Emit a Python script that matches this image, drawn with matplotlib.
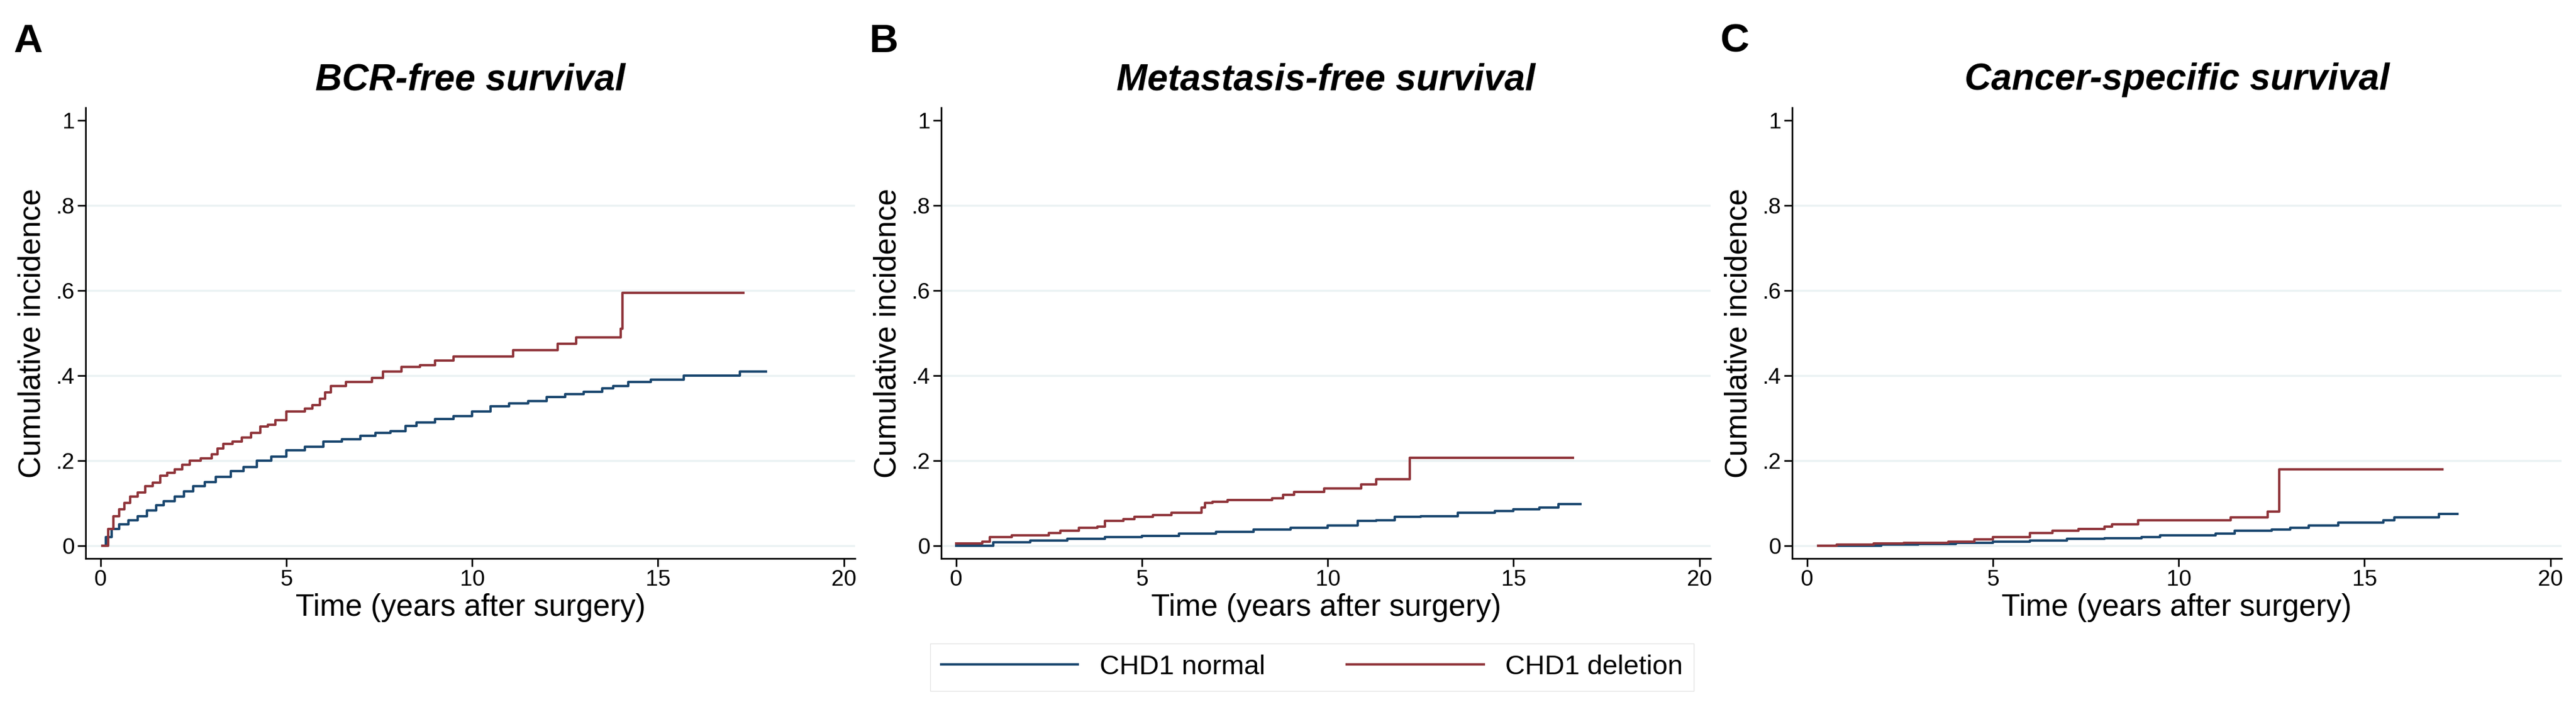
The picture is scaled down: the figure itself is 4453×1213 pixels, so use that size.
import matplotlib
matplotlib.use("Agg")
import matplotlib.pyplot as plt

BLUE = "#1a476f"
RED = "#90353b"

titles = ["BCR-free survival", "Metastasis-free survival", "Cancer-specific survival"]
letters = ["A", "B", "C"]

# panel A
a_norm_t = [0.05, 0.15, 0.3, 0.5, 0.75, 1, 1.25, 1.5, 1.7, 2, 2.25, 2.5, 2.8, 3.1, 3.5, 3.85, 4.2, 4.6, 5, 5.5, 6, 6.5, 7, 7.4, 7.8, 8.2, 8.5, 9, 9.5, 10, 10.5, 11, 11.5, 12, 12.5, 13, 13.5, 13.8, 14.2, 14.8, 15.7, 17.2, 17.9]
a_norm_y = [0, 0.02, 0.04, 0.05, 0.06, 0.07, 0.083, 0.095, 0.105, 0.115, 0.128, 0.14, 0.15, 0.162, 0.175, 0.185, 0.2, 0.21, 0.225, 0.233, 0.245, 0.25, 0.258, 0.265, 0.27, 0.282, 0.29, 0.298, 0.305, 0.315, 0.328, 0.334, 0.34, 0.35, 0.357, 0.362, 0.37, 0.375, 0.385, 0.39, 0.40, 0.41, 0.41]
a_del_t = [0.05, 0.2, 0.35, 0.5, 0.65, 0.8, 1.0, 1.2, 1.4, 1.6, 1.8, 2, 2.2, 2.4, 2.7, 3, 3.15, 3.3, 3.55, 3.8, 4.05, 4.3, 4.5, 4.7, 5, 5.5, 5.7, 5.9, 6.05, 6.2, 6.6, 7.3, 7.6, 8.1, 8.6, 9, 9.5, 11.1, 12.3, 12.8, 14.0, 14.05, 17.3]
a_del_y = [0, 0.04, 0.07, 0.085, 0.1, 0.115, 0.125, 0.14, 0.148, 0.165, 0.172, 0.18, 0.19, 0.2, 0.205, 0.215, 0.228, 0.24, 0.245, 0.255, 0.265, 0.28, 0.285, 0.295, 0.315, 0.322, 0.33, 0.345, 0.36, 0.375, 0.385, 0.395, 0.41, 0.42, 0.425, 0.435, 0.445, 0.46, 0.475, 0.49, 0.51, 0.595, 0.595]

# panel B
b_norm_t = [0, 1, 2, 3, 4, 5, 6, 7, 8, 9, 10, 10.8, 11.3, 11.8, 12.5, 13.5, 14.5, 15, 15.7, 16.2, 16.8]
b_norm_y = [0, 0.008, 0.012, 0.016, 0.02, 0.023, 0.028, 0.033, 0.038, 0.042, 0.048, 0.058, 0.06, 0.068, 0.07, 0.077, 0.081, 0.085, 0.09, 0.098, 0.098]
b_del_t = [0, 0.7, 0.9, 1.5, 2.5, 2.8, 3.3, 3.8, 4, 4.5, 4.8, 5.3, 5.8, 6.6, 6.7, 6.9, 7.3, 8.5, 8.8, 9.1, 9.9, 10.9, 11.3, 12.2, 16.6]
b_del_y = [0.005, 0.01, 0.02, 0.025, 0.03, 0.035, 0.042, 0.045, 0.058, 0.062, 0.068, 0.072, 0.078, 0.09, 0.1, 0.103, 0.107, 0.112, 0.12, 0.126, 0.135, 0.144, 0.156, 0.207, 0.207]

# panel C
c_norm_t = [0.3, 2, 3, 4, 5, 6, 7, 8, 9, 9.5, 10, 11, 11.5, 12.5, 13, 13.5, 14.3, 15.5, 15.8, 17, 17.5]
c_norm_y = [0, 0.002, 0.004, 0.007, 0.01, 0.012, 0.016, 0.018, 0.02, 0.024, 0.025, 0.028, 0.035, 0.038, 0.042, 0.048, 0.055, 0.06, 0.067, 0.075, 0.075]
c_del_t = [0.3, 0.8, 1.8, 2.6, 3.8, 4.5, 5, 6, 6.6, 7.3, 8, 8.2, 8.9, 11.4, 12.4, 12.7, 17.1]
c_del_y = [0, 0.003, 0.005, 0.007, 0.009, 0.015, 0.02, 0.03, 0.035, 0.04, 0.045, 0.05, 0.06, 0.067, 0.08, 0.18, 0.18]

panels = [
    (a_norm_t, a_norm_y, a_del_t, a_del_y),
    (b_norm_t, b_norm_y, b_del_t, b_del_y),
    (c_norm_t, c_norm_y, c_del_t, c_del_y),
]

plt.rcParams["font.family"] = ["Liberation Sans", "DejaVu Sans"]

fig = plt.figure(figsize=(44.53, 12.13), dpi=100)
lefts = [148, 1627, 3098]
width = 1330
bottom, top = 965, 186
W, H = 4453, 1213

for i, (nt, ny, dt, dy) in enumerate(panels):
    ax = fig.add_axes([lefts[i] / W, 1 - bottom / H, width / W, (bottom - top) / H])
    for y in [0, 0.2, 0.4, 0.6, 0.8]:
        ax.axhline(y, color="#eaf2f3", lw=2.5, zorder=0)
    ax.step(nt, ny, where="post", color=BLUE, lw=3, label="CHD1 normal")
    ax.step(dt, dy, where="post", color=RED, lw=3, label="CHD1 deletion")
    ax.set_xlim(-0.4, 20.3)
    ax.set_ylim(-0.03, 1.03)
    ax.set_xticks([0, 5, 10, 15, 20])
    ax.set_yticks([0, 0.2, 0.4, 0.6, 0.8, 1])
    ax.set_yticklabels(["0", ".2", ".4", ".6", ".8", "1"])
    ax.tick_params(labelsize=28, width=2, length=10)
    ax.spines["top"].set_visible(False)
    ax.spines["right"].set_visible(False)
    ax.spines["left"].set_linewidth(2)
    ax.spines["bottom"].set_linewidth(2)
    ax.set_xlabel("Time (years after surgery)", fontsize=38, labelpad=4)
    ax.set_ylabel("Cumulative incidence", fontsize=38, labelpad=12)
    ax.set_title(titles[i], fontsize=46, fontweight="bold", style="italic", pad=22)
    fig.text((lefts[i] - 125) / W, 1 - 72 / H, letters[i], fontsize=50, fontweight="bold", va="center")

h, l = ax.get_legend_handles_labels()
fig.legend(h, l, loc="center", bbox_to_anchor=(2268 / W, 1 - 1153 / H), ncol=2, fontsize=34,
           frameon=True, fancybox=False, edgecolor="#dddddd", handlelength=5, columnspacing=3)

fig.savefig("out.png", dpi=100)
